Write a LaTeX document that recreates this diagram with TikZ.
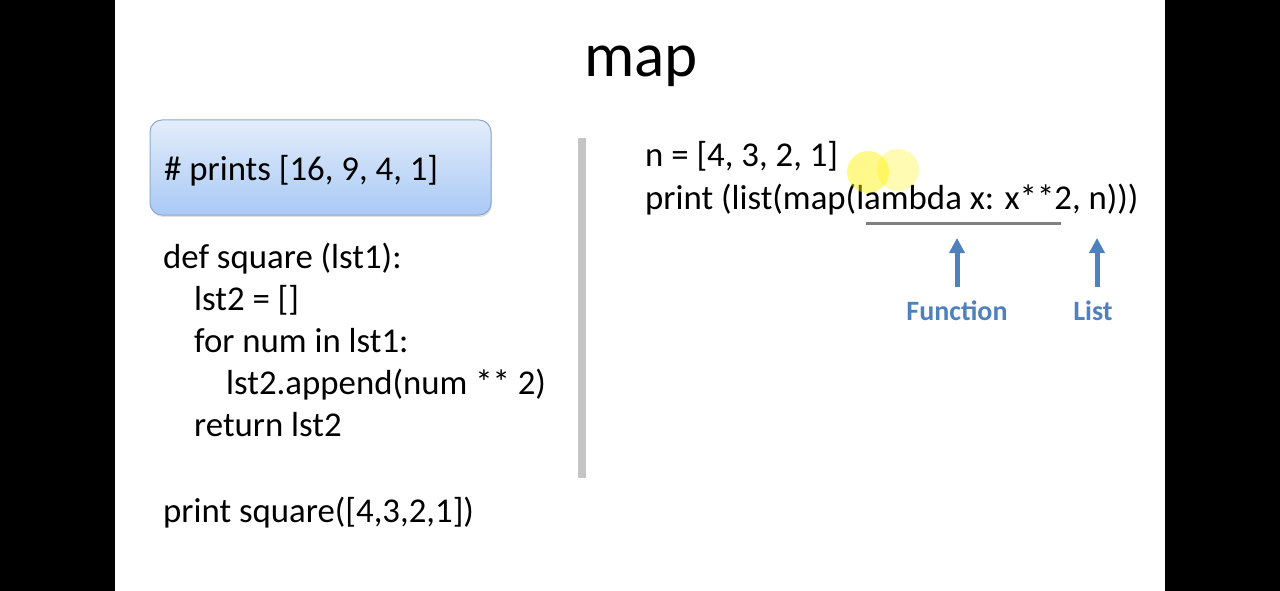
\documentclass[tikz,border=0pt]{standalone}
\usepackage{fontspec}
\setmainfont{Carlito}
\usetikzlibrary{arrows.meta,shadows}
\definecolor{arrowblue}{HTML}{4F81BD}
\definecolor{boxtop}{HTML}{E3EDFB}
\definecolor{boxbot}{HTML}{A9C9F5}
\definecolor{boxline}{HTML}{8FA9CC}
\definecolor{barcol}{HTML}{C4C4C4}
\tikzset{
  code/.style={anchor=base west, inner sep=0pt, font=\fontsize{34.8}{40}\selectfont},
  label/.style={inner sep=0pt, text=arrowblue, font=\fontsize{28}{32}\selectfont\bfseries},
  uparrow/.style={draw=arrowblue, line width=5pt, -{Triangle[length=15pt,width=15pt]}},
}
\begin{document}
\begin{tikzpicture}[x=1pt,y=-1pt]
\useasboundingbox (0,0) rectangle (1280,591);
\fill[black] (0,0) rectangle (1280,591);
\fill[white] (115,0) rectangle (1165,591);
% title
\node[anchor=base, inner sep=0pt, font=\fontsize{63}{70}\selectfont] (title) at (641,77) {map};
% box
\node[draw=boxline, line width=1pt, rounded corners=12pt, top color=boxtop, bottom color=boxbot,
  minimum width=341pt, minimum height=95pt, inner sep=0pt,
  drop shadow={shadow xshift=1pt, shadow yshift=-2pt, opacity=0.25}] (box) at (320.5,167.5) {};
\node[code] (comment) at (164,180) {\# prints [16, 9, 4, 1]};
% left code
\node[code] (l1) at (163,268) {def square (lst1):};
\node[code] (l2) at (194,310) {lst2 = []};
\node[code] (l3) at (194,352) {for num in lst1:};
\node[code] (l4) at (226,394) {lst2.append(num ** 2)};
\node[code] (l5) at (194,436) {return lst2};
\node[code] (l6) at (163,522) {print square([4,3,2,1])};
% divider
\fill[barcol] (578,138) rectangle (586,478);
% right code
\node[code] (r1) at (645,167) {n = [4, 3, 2, 1]};
\node[code] (r2) at (645,209) {print (list(map(lambda x: x**2, n)))};
% underline
\coordinate (u1) at (866,223.5);
\coordinate (u2) at (1061,223.5);
\draw[gray, line width=3pt] (u1) -- (u2);
% labels and arrows
\node[label] (func) at (957,311) {Function};
\node[label] (list) at (1093,311) {List};
\coordinate (fa) at (957,238);
\coordinate (la) at (1097,238);
\draw[uparrow] (957,287) -- (fa);
\draw[uparrow] (1097,287) -- (la);
% pointer highlight
\fill[yellow, opacity=0.45] (868,172) circle (21);
\fill[yellow, opacity=0.3] (898,170) circle (21);
\end{tikzpicture}
\end{document}
